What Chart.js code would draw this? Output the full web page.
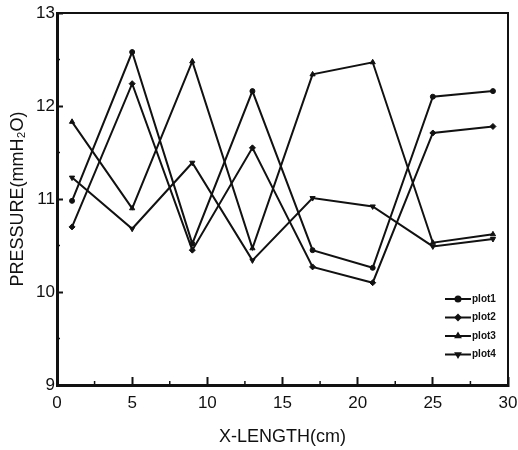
<!DOCTYPE html>
<html>
<head>
<meta charset="utf-8">
<script src="https://cdn.jsdelivr.net/npm/chart.js"></script>
<style>
  html, body { margin: 0; padding: 0; background: #fff; }
  #wrap { width: 518px; height: 450px; }
</style>
</head>
<body>
<div id="wrap"><canvas id="lineChart"></canvas></div>
<script>
// x positions (cm)
var xLength = [1, 5, 9, 13, 17, 21, 25, 29]
// pressure readings (mmH2O)
var plot1 = [10.98, 12.58, 10.52, 12.16, 10.45, 10.26, 12.10, 12.16]
var plot2 = [10.70, 12.24, 10.45, 11.55, 10.27, 10.10, 11.71, 11.78]
var plot3 = [11.83, 10.90, 12.48, 10.47, 12.34, 12.47, 10.53, 10.62]
var plot4 = [11.23, 10.68, 11.39, 10.34, 11.01, 10.92, 10.49, 10.57]
var seriesNames = ['plot1', 'plot2', 'plot3', 'plot4']
var xMinorTicks = [2.5, 7.5, 12.5, 17.5, 22.5, 27.5]
var yMinorTicks = [9.5, 10.5, 11.5, 12.5]

var INK = '#111'
var tickFont = { family: "'Liberation Sans Narrow', 'Liberation Sans', Arial, sans-serif", size: 17 }
var titleFont = { family: "'Liberation Sans', Arial, sans-serif", size: 18 }

function toPoints(values) {
    return values.map(function (v, i) { return { x: xLength[i], y: v } })
}

var markers = [
    { style: 'circle', rotation: 0, radius: 2.5 },
    { style: 'rectRot', rotation: 0, radius: 3 },
    { style: 'triangle', rotation: 0, radius: 3 },
    { style: 'triangle', rotation: 180, radius: 3 }
]

var datasets = [plot1, plot2, plot3, plot4].map(function (vals, i) {
    return {
        label: seriesNames[i],
        data: toPoints(vals),
        borderColor: INK,
        backgroundColor: INK,
        borderWidth: 2,
        pointStyle: markers[i].style,
        rotation: markers[i].rotation,
        pointRadius: markers[i].radius,
        pointBorderWidth: 1,
        tension: 0
    }
})

// box round the plot + short minor ticks pointing inward
var frameAndMinor = {
    id: 'frameAndMinor',
    afterDraw: function (chart) {
        var ctx = chart.ctx
        var a = chart.chartArea
        var xs = chart.scales.x
        var ys = chart.scales.y
        ctx.save()
        ctx.strokeStyle = INK
        ctx.lineWidth = 2
        ctx.beginPath()
        ctx.moveTo(a.left, a.top)
        ctx.lineTo(a.right, a.top)
        ctx.lineTo(a.right, a.bottom)
        ctx.stroke()
        ctx.lineWidth = 1.5
        xMinorTicks.forEach(function (v) {
            var px = xs.getPixelForValue(v)
            ctx.beginPath()
            ctx.moveTo(px, a.bottom)
            ctx.lineTo(px, a.bottom - 4)
            ctx.stroke()
        })
        yMinorTicks.forEach(function (v) {
            var py = ys.getPixelForValue(v)
            ctx.beginPath()
            ctx.moveTo(a.left, py)
            ctx.lineTo(a.left + 3, py)
            ctx.stroke()
        })
        ctx.restore()
    }
}

// legend drawn in lower right corner of the plot, line + marker style
var cornerLegend = {
    id: 'cornerLegend',
    afterDraw: function (chart) {
        var ctx = chart.ctx
        var a = chart.chartArea
        var x0 = a.right - 63
        var y0 = a.bottom - 86
        ctx.save()
        chart.data.datasets.forEach(function (ds, i) {
            var y = y0 + i * 18.5
            ctx.strokeStyle = INK
            ctx.lineWidth = 2
            ctx.beginPath()
            ctx.moveTo(x0, y)
            ctx.lineTo(x0 + 26, y)
            ctx.stroke()
            ctx.fillStyle = INK
            if (Chart.helpers && Chart.helpers.drawPoint) {
                Chart.helpers.drawPoint(ctx, {
                    pointStyle: ds.pointStyle, rotation: ds.rotation,
                    radius: 2.5, borderWidth: 1
                }, x0 + 13, y)
            } else {
                ctx.beginPath()
                ctx.arc(x0 + 13, y, 2.5, 0, Math.PI * 2)
                ctx.fill()
            }
            ctx.fillStyle = INK
            ctx.font = 'bold 10px "Liberation Sans", Arial, sans-serif'
            ctx.textAlign = 'left'
            ctx.textBaseline = 'middle'
            ctx.fillText(ds.label, x0 + 27, y)
        })
        ctx.restore()
    }
}

var lineChartCanvas = document.getElementById('lineChart').getContext('2d')
new Chart(lineChartCanvas, {
    type: 'line',
    data: { datasets: datasets },
    options: {
        responsive: true,
        maintainAspectRatio: false,
        animation: false,
        layout: { padding: { top: 13, right: 10, left: 0, bottom: 0 } },
        plugins: {
            legend: { display: false },
            tooltip: { enabled: false }
        },
        scales: {
            x: {
                type: 'linear',
                min: 0,
                max: 30,
                afterFit: function (scale) {
                    scale.height = 65
                    scale.paddingLeft = 0
                    scale.paddingRight = 0
                },
                ticks: {
                    stepSize: 5,
                    color: INK,
                    font: tickFont,
                    padding: 16,
                    maxRotation: 0
                },
                grid: {
                    drawOnChartArea: false,
                    tickLength: -8,
                    tickWidth: 2,
                    tickColor: INK
                },
                border: { color: INK, width: 3 },
                title: {
                    display: true,
                    text: 'X-LENGTH(cm)',
                    color: INK,
                    font: titleFont,
                    padding: { top: 0, bottom: 2 }
                }
            },
            y: {
                min: 9,
                max: 13,
                afterFit: function (scale) {
                    scale.width = 57
                    scale.paddingTop = 0
                    scale.paddingBottom = 0
                },
                ticks: {
                    stepSize: 1,
                    color: INK,
                    font: tickFont,
                    padding: 8
                },
                grid: {
                    drawOnChartArea: false,
                    tickLength: -6,
                    tickWidth: 2,
                    tickColor: INK
                },
                border: { color: INK, width: 3 },
                title: {
                    display: true,
                    text: 'PRESSURE(mmH\u2082O)',
                    color: INK,
                    font: titleFont,
                    padding: { top: 7, bottom: 0 }
                }
            }
        }
    },
    plugins: [frameAndMinor, cornerLegend]
})
</script>
</body>
</html>
